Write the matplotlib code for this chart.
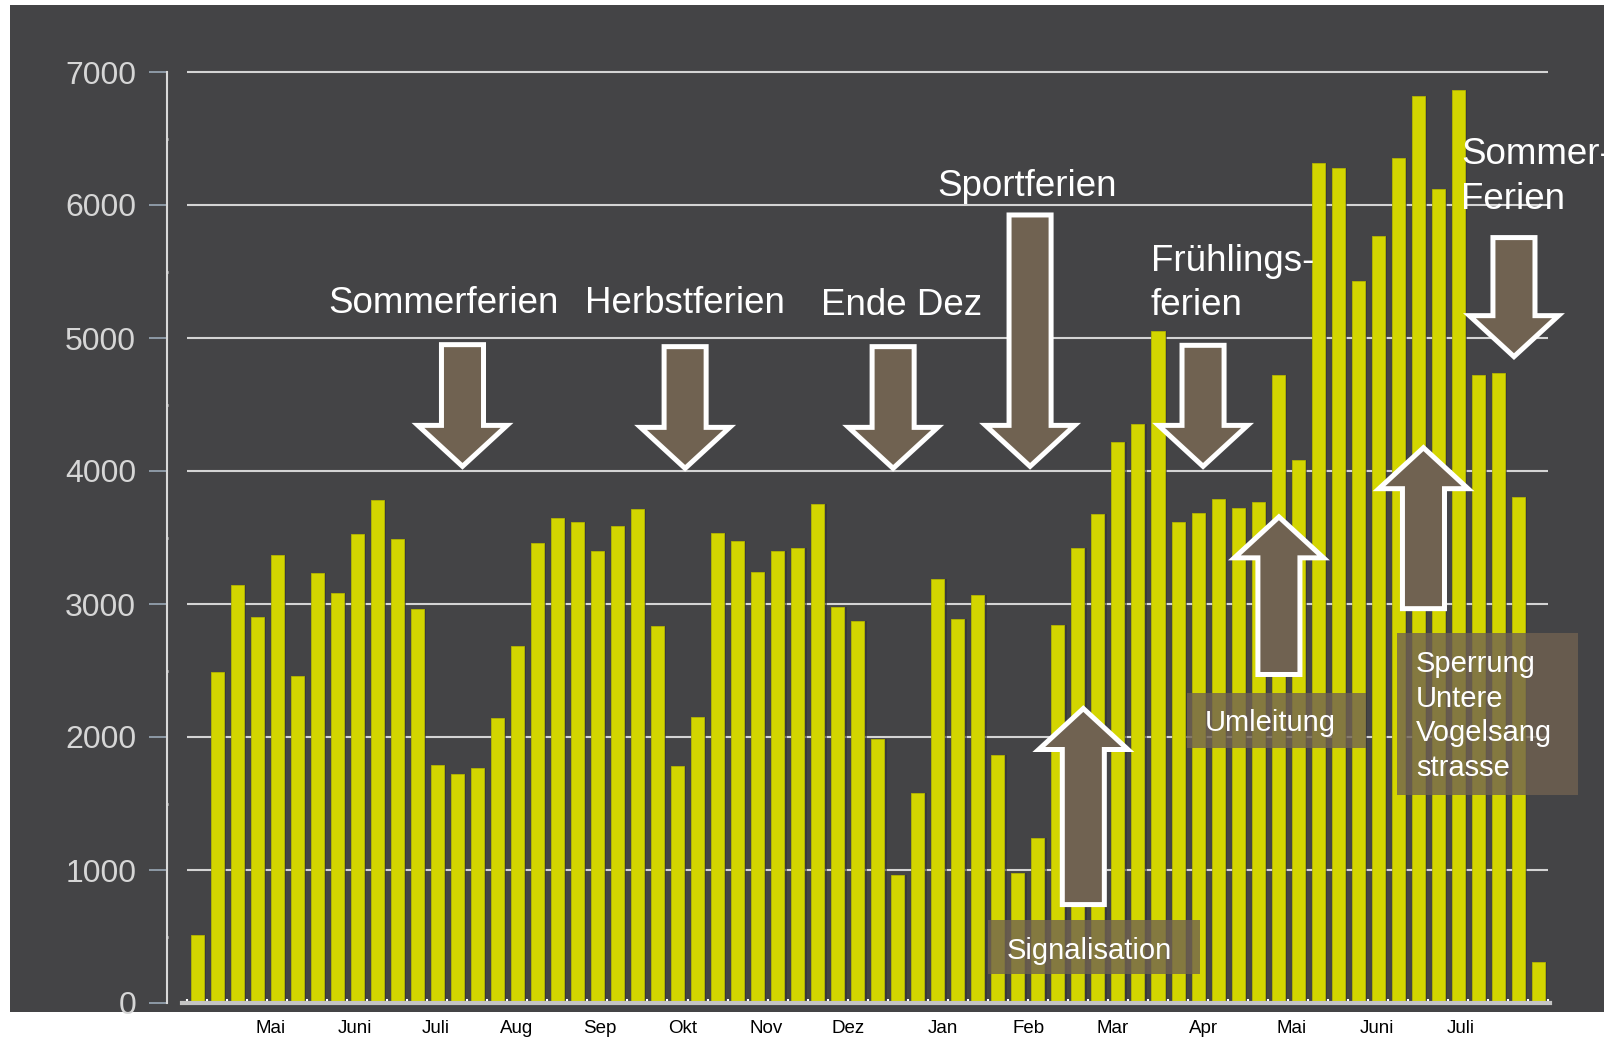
import matplotlib.pyplot as plt
from matplotlib.patches import Rectangle, FancyArrow

plt.rcParams['font.family'] = ['Liberation Sans', 'DejaVu Sans']

# weekly counts (one bar per week, Apr -> Jul of next year)
counts = [510, 2485, 3145, 2900, 3370, 2455, 3230, 3080, 3525, 3780,
          3485, 2960, 1790, 1720, 1770, 2145, 2685, 3460, 3645, 3620,
          3395, 3590, 3715, 2835, 1780, 2150, 3535, 3470, 3240, 3395,
          3420, 3750, 2980, 2870, 1985, 960, 1580, 3190, 2890, 3070,
          1865, 980, 1240, 2840, 3420, 3675, 4215, 4350, 5055, 3620,
          3685, 3790, 3725, 3765, 4720, 4080, 6315, 6275, 5430, 5765,
          6350, 6820, 6120, 6865, 4720, 4740, 3805, 305]

month_labels = ['Mai', 'Juni', 'Juli', 'Aug', 'Sep', 'Okt', 'Nov', 'Dez',
                'Jan', 'Feb', 'Mar', 'Apr', 'Mai', 'Juni', 'Juli']
month_pos = [3.65, 7.9, 11.94, 15.98, 20.13, 24.28, 28.42, 32.52,
             37.26, 41.51, 45.75, 50.25, 54.65, 58.94, 63.14]
y_ticks = list(range(0, 7001, 1000))

# holidays: down arrows (week, top, tip)
holiday_arrows = [(13.26, 4950, 4035), (24.38, 4935, 4020), (34.77, 4935, 4020),
                  (41.61, 5925, 4035), (50.25, 4945, 4035), (65.78, 5755, 4860)]
holiday_labels = [('Sommerferien', 12.31, 5190, 'center'),
                  ('Herbstferien', 24.38, 5190, 'center'),
                  ('Ende Dez', 35.21, 5175, 'center'),
                  ('Sportferien', 41.46, 6070, 'center'),
                  ('Frühlings-', 47.63, 5506, 'left'),
                  ('ferien', 47.63, 5175, 'left'),
                  ('Sommer-', 63.14, 6308, 'left'),
                  ('Ferien', 63.14, 5968, 'left')]

# measures: up arrows (week, bottom, tip)
measure_arrows = [(44.27, 740, 2214), (54.04, 2470, 3655), (61.26, 2965, 4175)]
# boxes (x0, y0, x1, y1) and their text lines (text, x, y, ha)
measure_boxes = [(39.49, 218, 50.1, 624), (49.43, 1920, 58.39, 2331), (59.93, 1565, 68.98, 2784)]
measure_texts = [('Signalisation', 44.56, 332, 'center'),
                 ('Umleitung', 53.6, 2044, 'center'),
                 ('Sperrung', 60.89, 2491, 'left'),
                 ('Untere', 60.89, 2229, 'left'),
                 ('Vogelsang', 60.89, 1967, 'left'),
                 ('strasse', 60.89, 1705, 'left')]

bg = '#444446'
bar_color = '#d3d500'
arrow_color = '#706251'

fig = plt.figure(figsize=(16.08, 10.38), dpi=100)
panel = Rectangle((10 / 1608, 26 / 1038), 1594 / 1608, 1007 / 1038,
                  transform=fig.transFigure, facecolor=bg, edgecolor='none', zorder=0)
fig.add_artist(panel)

ax = fig.add_axes([182 / 1608, 35 / 1038, 1368 / 1608, 931 / 1038])
ax.set_facecolor('none')

x = list(range(len(counts)))
# soft shadow right of the bars
ax.bar([i + 0.12 for i in x], counts, width=0.65, color='#333335', alpha=0.6, zorder=1)
ax.bar(x, counts, width=0.65, color=bar_color, edgecolor='#b5b700', linewidth=0.6, zorder=2)

ax.hlines(y_ticks[1:], -0.5, 67.5, color='#d4d4d4', linewidth=1.5, zorder=0.5, clip_on=False)

ax.set_xlim(-0.75, 67.58)
ax.set_ylim(0, 7000)

for s in ['top', 'right']:
    ax.spines[s].set_visible(False)
ax.spines['left'].set_position(('outward', 11))
ax.spines['left'].set_color('#d9d9d9')
ax.spines['left'].set_linewidth(1.5)
ax.spines['bottom'].set_color('#c4c4c4')
ax.spines['bottom'].set_linewidth(3)

ax.set_yticks(y_ticks)
ax.set_yticks(range(500, 7000, 1000), minor=True)
ax.tick_params(axis='y', which='major', length=13, width=1.2, color='#9aa8b6',
               labelcolor='#d6d6d6', labelsize=23, pad=9)
ax.tick_params(axis='y', which='minor', length=2, width=2, color='#e0e0e0', direction='inout')

ax.set_xticks(month_pos)
ax.set_xticklabels(month_labels)
ax.set_xticks([i + 0.5 for i in range(-1, len(counts))], minor=True)
ax.tick_params(axis='x', which='major', length=0, labelsize=13.5, labelcolor='black', pad=12)
ax.tick_params(axis='x', which='minor', length=3, width=1.5, color='white', direction='in')

for xc, top, tip in holiday_arrows:
    ax.add_patch(FancyArrow(xc, top, 0, tip - top, width=2.1, head_width=4.45, head_length=308,
                            length_includes_head=True, facecolor=arrow_color, edgecolor='white',
                            linewidth=3.6, joinstyle='miter', zorder=5, clip_on=False))

for txt, xt, yt, ha in holiday_labels:
    t = ax.text(xt, yt, txt, color='white', fontsize=26.5, ha=ha, va='baseline', zorder=6)
    t.set_clip_path(panel)

for x0, y0, x1, y1 in measure_boxes:
    ax.add_patch(Rectangle((x0, y0), x1 - x0, y1 - y0, facecolor=arrow_color, alpha=0.8,
                           edgecolor='none', zorder=4, clip_on=False))

for xc, bottom, tip in measure_arrows:
    ax.add_patch(FancyArrow(xc, bottom, 0, tip - bottom, width=2.1, head_width=4.45, head_length=308,
                            length_includes_head=True, facecolor=arrow_color, edgecolor='white',
                            linewidth=3.6, joinstyle='miter', zorder=5, clip_on=False))

for txt, xt, yt, ha in measure_texts:
    ax.text(xt, yt, txt, color='white', fontsize=21, ha=ha, va='baseline', zorder=6)

fig.savefig('out.png', dpi=100, facecolor='white')
